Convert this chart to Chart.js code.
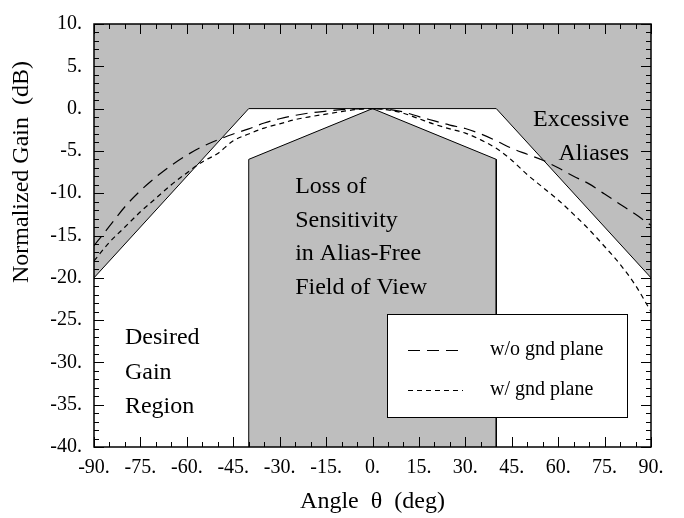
<!DOCTYPE html>
<html>
<head>
<meta charset="utf-8">
<script src="https://cdn.jsdelivr.net/npm/chart.js@4/dist/chart.umd.min.js"></script>
<style>
  html, body { margin: 0; padding: 0; background: #fff; }
</style>
</head>
<body>
<canvas id="chart" width="684" height="518"></canvas>
<script>
// angle samples (deg) and the two measured gain patterns (dB)
const angles = [-90, -85, -80, -75, -70, -65, -60, -55, -50, -45, -40, -35, -30, -25, -20, -15, -10, -5,
  0, 5, 10, 15, 20, 25, 30, 35, 40, 45, 50, 55, 60, 65, 70, 75, 80, 85, 90]
const gainNoPlane = [-16.2, -13.9, -11.6, -9.7, -8.1, -6.7, -5.5, -4.5, -3.7, -3.0, -2.4, -1.7, -1.2, -0.8, -0.5, -0.3, -0.12, -0.03,
  0, -0.1, -0.4, -0.95, -1.45, -1.95, -2.35, -3.0, -3.8, -4.7, -5.4, -6.1, -7.0, -8.0, -8.9, -10.1, -11.3, -12.5, -13.8]
const gainWithPlane = [-18.0, -15.8, -14.0, -12.2, -10.6, -9.0, -7.6, -6.3, -5.3, -3.8, -3.0, -2.3, -1.8, -1.3, -0.95, -0.65, -0.35, -0.1,
  0, -0.15, -0.55, -1.2, -1.85, -2.4, -2.9, -3.7, -4.7, -6.1, -7.8, -9.3, -10.8, -12.5, -14.3, -16.3, -18.4, -20.9, -24.0]

// "excessive aliases" boundary and "loss of sensitivity" region
const aliasAngles = [-90, -40, 40, 90]
const aliasGain = [-20, 0, 0, -20]
const lossAngles = [-40, -40, 0, 40, 40]
const lossGain = [-40, -6, 0, -6, -40]

const seriesNames = ['w/o gnd plane', 'w/ gnd plane']

const serif = "'Liberation Serif', 'Times New Roman', serif"
const gray = '#bebebe'

const toPoints = (xs, ys) => xs.map((x, i) => ({ x: x, y: ys[i] }))

// region labels, anchored in data coordinates
const regionLabels = [
  { text: 'Excessive', x: 51.9, y: -1.3 },
  { text: 'Aliases', x: 60.1, y: -5.3 },
  { text: 'Loss of', x: -25, y: -9.2 },
  { text: 'Sensitivity', x: -25, y: -13.2 },
  { text: 'in Alias-Free', x: -25, y: -17.1 },
  { text: 'Field of View', x: -25, y: -21.2 },
  { text: 'Desired', x: -80, y: -27.1 },
  { text: 'Gain', x: -80, y: -31.2 },
  { text: 'Region', x: -80, y: -35.2 }
]

const decorations = {
  id: 'decorations',
  afterDatasetsDraw(chart) {
    const { ctx, chartArea: a, scales: { x, y } } = chart
    ctx.save()

    // region texts
    ctx.fillStyle = '#000'
    ctx.font = '24px ' + serif
    ctx.textAlign = 'left'
    ctx.textBaseline = 'middle'
    regionLabels.forEach(l => {
      ctx.fillText(l.text, x.getPixelForValue(l.x), y.getPixelForValue(l.y))
    })

    // legend box
    const bx = a.right - 264, by = a.bottom - 133, bw = 240, bh = 103
    ctx.fillStyle = '#fff'
    ctx.fillRect(bx, by, bw, bh)
    ctx.strokeStyle = '#000'
    ctx.lineWidth = 1
    ctx.strokeRect(bx + 0.5, by + 0.5, bw, bh)
    const dashes = [[12, 7], [5, 4]]
    ctx.font = '20px ' + serif
    seriesNames.forEach((name, i) => {
      const ry = by + 36 + i * 40
      ctx.setLineDash(dashes[i])
      ctx.beginPath()
      ctx.moveTo(bx + 21, ry + 0.5)
      ctx.lineTo(bx + 76, ry + 0.5)
      ctx.stroke()
      ctx.setLineDash([])
      ctx.fillStyle = '#000'
      ctx.fillText(name, bx + 103, ry)
    })

    // frame with inward ticks
    ctx.lineWidth = 1
    ctx.beginPath()
    for (let v = -90; v <= 90; v += 5) {
      const px = Math.round(x.getPixelForValue(v)) + 0.5
      const len = v % 15 === 0 ? 10 : 5
      ctx.moveTo(px, a.bottom); ctx.lineTo(px, a.bottom - len)
      ctx.moveTo(px, a.top); ctx.lineTo(px, a.top + len)
    }
    for (let v = -40; v <= 10; v += 1) {
      const py = Math.round(y.getPixelForValue(v)) + 0.5
      const len = v % 5 === 0 ? 10 : 5
      ctx.moveTo(a.left, py); ctx.lineTo(a.left + len, py)
      ctx.moveTo(a.right, py); ctx.lineTo(a.right - len, py)
    }
    ctx.stroke()
    ctx.lineWidth = 1.5
    ctx.strokeRect(a.left, a.top, a.right - a.left, a.bottom - a.top)

    // y axis title
    ctx.font = '24px ' + serif
    ctx.textAlign = 'center'
    ctx.translate(22, 172)
    ctx.rotate(-Math.PI / 2)
    ctx.fillText('Normalized Gain  (dB)', 0, 0)
    ctx.restore()
  }
}

new Chart(document.getElementById('chart'), {
  type: 'line',
  data: {
    datasets: [
      {
        label: seriesNames[0],
        data: toPoints(angles, gainNoPlane),
        borderColor: '#000',
        borderWidth: 1.2,
        borderDash: [12, 7],
        pointRadius: 0,
        cubicInterpolationMode: 'monotone',
        fill: false
      },
      {
        label: seriesNames[1],
        data: toPoints(angles, gainWithPlane),
        borderColor: '#000',
        borderWidth: 1.2,
        borderDash: [5, 4],
        pointRadius: 0,
        cubicInterpolationMode: 'monotone',
        fill: false
      },
      {
        label: 'loss',
        data: toPoints(lossAngles, lossGain),
        borderColor: '#000',
        borderWidth: 1,
        backgroundColor: gray,
        pointRadius: 0,
        tension: 0,
        fill: 'start'
      },
      {
        label: 'alias',
        data: toPoints(aliasAngles, aliasGain),
        borderColor: '#000',
        borderWidth: 1,
        backgroundColor: gray,
        pointRadius: 0,
        tension: 0,
        fill: 'end'
      }
    ]
  },
  options: {
    responsive: false,
    animation: false,
    devicePixelRatio: 1,
    layout: { padding: { left: 0, right: 33, top: 14, bottom: 0 } },
    plugins: {
      legend: { display: false },
      tooltip: { enabled: false }
    },
    scales: {
      x: {
        type: 'linear',
        min: -90,
        max: 90,
        afterFit: s => { s.height = 71 },
        grid: { display: false, drawTicks: false },
        border: { display: false },
        ticks: {
          stepSize: 15,
          autoSkip: false,
          maxRotation: 0,
          padding: 9,
          color: '#000',
          font: { family: serif, size: 20 },
          callback: v => v + '.'
        },
        title: {
          display: true,
          text: 'Angle  θ  (deg)',
          color: '#000',
          font: { family: serif, size: 24 },
          padding: { top: 0, bottom: 2 }
        }
      },
      y: {
        min: -40,
        max: 10,
        afterFit: s => { s.width = 94 },
        grid: { display: false, drawTicks: false },
        border: { display: false },
        ticks: {
          stepSize: 5,
          padding: 12,
          color: '#000',
          font: { family: serif, size: 20 },
          callback: v => v + '.'
        }
      }
    }
  },
  plugins: [decorations]
})
</script>
</body>
</html>
